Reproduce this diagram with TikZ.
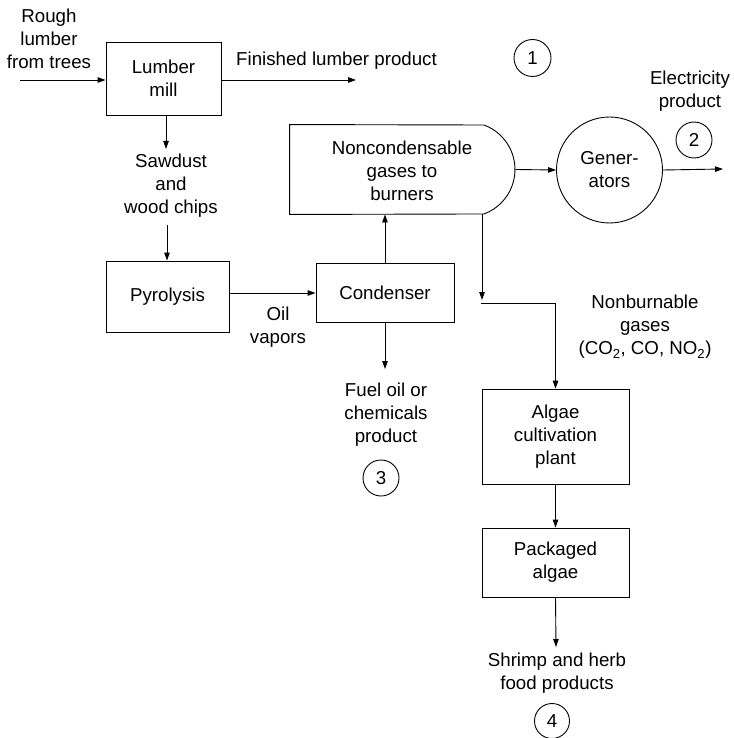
\documentclass[tikz,border=0pt]{standalone}
\usepackage{fontspec}
\setmainfont{Liberation Sans}
\usetikzlibrary{arrows.meta}
\begin{document}
\begin{tikzpicture}[x=1pt,y=-1pt,
  line width=0.9pt,
  every node/.style={font=\fontsize{18.7}{23}\selectfont},
  box/.style={draw, inner sep=0pt, align=center},
  lbl/.style={align=center, inner sep=0pt},
  num/.style={draw, circle, inner sep=0pt, minimum size=#1},
  num/.default=36pt,
  arr/.style={-{Triangle[length=8pt,width=5.5pt]}}]
\useasboundingbox (0,0) rectangle (733,738);

% process units
\node[box, minimum width=115pt, minimum height=73pt] (mill) at (163.5,78.5) {Lumber\\mill};
\node[box, minimum width=123pt, minimum height=71pt] (pyro) at (167.5,296.5) {Pyrolysis};
\node[box, minimum width=138pt, minimum height=59pt] (cond) at (385,292.5) {Condenser};
\node[box, minimum width=147pt, minimum height=95pt] (algae) at (555.5,436.5) {Algae\\cultivation\\plant};
\node[box, minimum width=147pt, minimum height=69pt] (pack) at (555.5,562.5) {Packaged\\algae};
\node[draw, circle, inner sep=0pt, minimum size=106pt, align=center] (gen) at (609.5,170) {Gener-\\ators};

% burner unit: flat left side, rounded right end
\node[inner sep=0pt, minimum width=225pt, minimum height=89pt, align=center] (gas) at (402.5,169.5) {};
\node[lbl] (gastext) at (402,170.5) {Noncondensable\\gases to\\burners};
\draw (gas.north west) -- (484,125) arc[start angle=69.7, end angle=-69.7, radius=47.44pt]
      -- (gas.south west) -- cycle;

% stream labels
\node[lbl] (rough) at (49,38.5) {Rough\\lumber\\from trees};
\node[lbl] (finished) at (336.5,61) {Finished lumber product};
\node[lbl] (sawdust) at (171,186) {Sawdust\\and\\wood chips};
\node[lbl] (oil) at (278,327) {Oil\\vapors};
\node[lbl] (fuel) at (386,414.5) {Fuel oil or\\chemicals\\product};
\node[lbl] (elec) at (690,91.5) {Electricity\\product};
\node[lbl] (nonburn) at (645,327) {Nonburnable\\gases\\(CO\textsubscript{2}, CO, NO\textsubscript{2})};
\node[lbl] (shrimp) at (557,673.5) {Shrimp and herb\\food products};

% product numbers
\node[num=37pt] (n1) at (532.5,58) {1};
\node[num] (n2) at (694,140) {2};
\node[num] (n3) at (381,478) {3};
\node[num=35pt] (n4) at (552,721) {4};

% free ends of the streams
\coordinate (logs) at (20,80);
\coordinate (lumberout) at (356,80);
\coordinate (sawin) at (166,149);
\coordinate (sawout) at (167,225);
\coordinate (fuelin) at (385,369);
\coordinate (power) at (723,169);
\coordinate (split) at (482,300);
\coordinate (bend) at (481,303);
\coordinate (foodin) at (556,647);

% connectors
\draw[arr] (logs) -- (logs -| mill.west);
\draw[arr] (mill.east |- lumberout) -- (lumberout);
\draw[arr] (sawin |- mill.south) -- (sawin);
\draw[arr] (sawout) -- (sawout |- pyro.north);
\draw[arr] (pyro.east |- 0,293) -- (cond.west |- 0,293);
\draw[arr] (cond.north) -- (cond.north |- gas.south);
\draw[arr] (cond.south) -- (fuelin);
\draw[arr] (gas.east) -- (gen.west);
\draw[arr] (gen.east) -- (power);
\draw[arr] (split |- gas.south) -- (split);
\draw[arr] (bend) -- (bend -| algae.north) -- (algae.north);
\draw[arr] (algae.south) -- (pack.north);
\draw[arr] (pack.south) -- (foodin);
\end{tikzpicture}
\end{document}
